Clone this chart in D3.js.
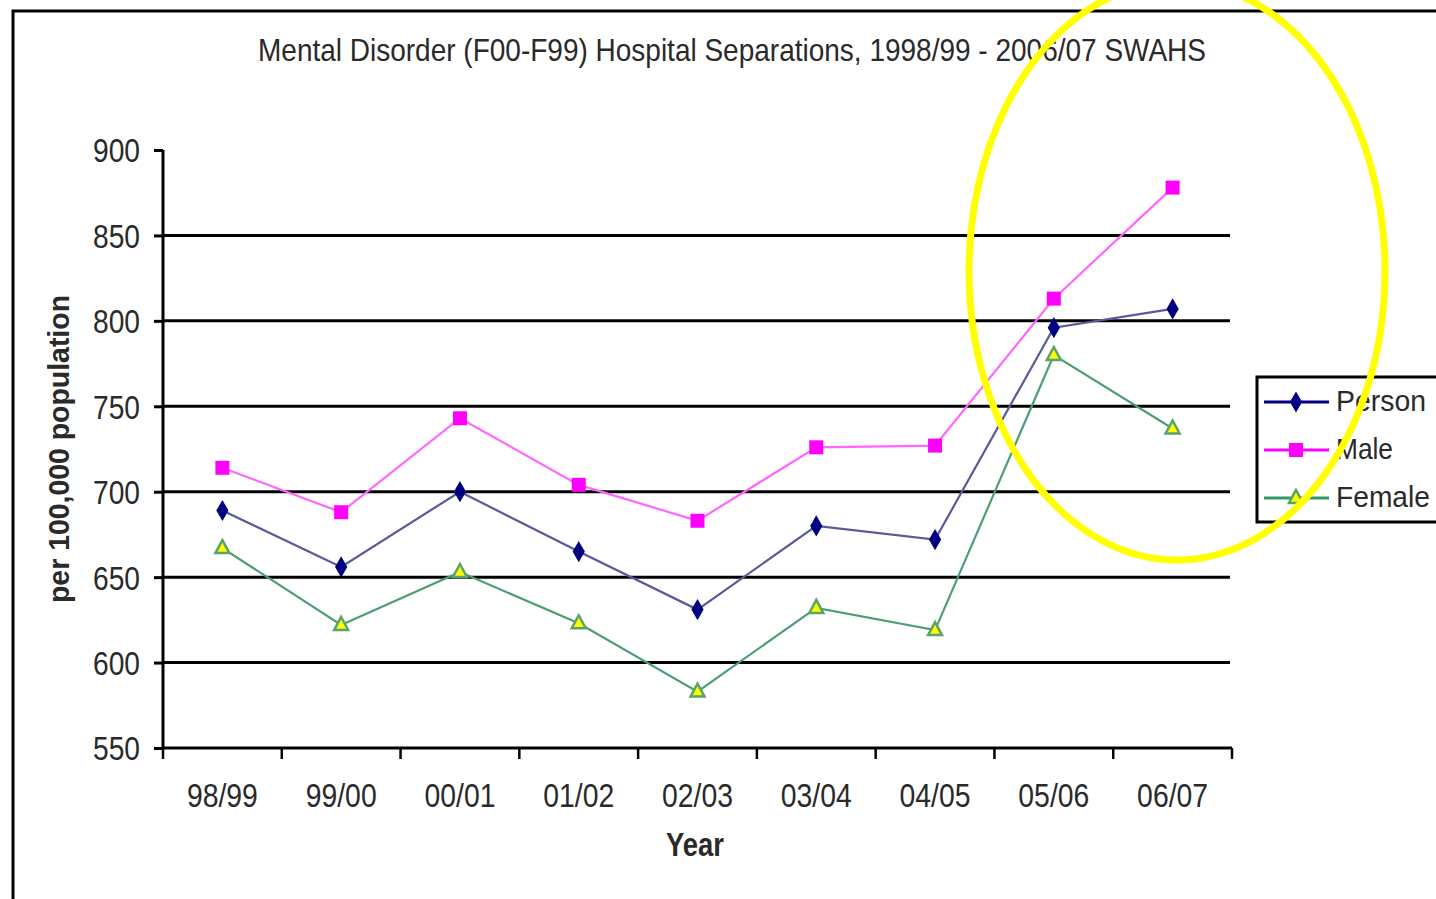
<!DOCTYPE html>
<html>
<head>
<meta charset="utf-8">
<script src="https://cdn.jsdelivr.net/npm/d3@7"></script>
<style>
  html, body { margin: 0; padding: 0; background: #fff; overflow: hidden; }
  svg { display: block; }
  text { font-family: "Liberation Sans", Arial, sans-serif; fill: #2a2a2a; }
</style>
</head>
<body>
<svg id="chart" width="1436" height="899"></svg>
<script>
// Categories (financial years)
const years = ["98/99", "99/00", "00/01", "01/02", "02/03", "03/04", "04/05", "05/06", "06/07"];

// Separations per 100,000 population
const person = [689, 656, 700, 665, 631, 680, 672, 796, 807];
const male   = [714, 688, 743, 704, 683, 726, 727, 813, 878];
const female = [667, 622, 653, 623, 583, 632, 619, 780, 737];

const yTicks = [550, 600, 650, 700, 750, 800, 850, 900];
const seriesNames = ["Person", "Male", "Female"];

const svg = d3.select("#chart");

const plot = { left: 163, right: 1232, top: 150, bottom: 748 };

const x = d3.scaleBand().domain(years).range([plot.left, plot.right]).padding(0);
const y = d3.scaleLinear().domain([550, 900]).range([plot.bottom, plot.top]);

// Outer frame (runs past the right and bottom edges)
svg.append("rect")
  .attr("x", 13).attr("y", 11)
  .attr("width", 1500).attr("height", 1000)
  .attr("fill", "none").attr("stroke", "#000").attr("stroke-width", 3);

// Title (tall, narrow lettering)
svg.append("text")
  .attr("x", 258).attr("y", 61)
  .attr("font-size", 32)
  .attr("textLength", 948).attr("lengthAdjust", "spacingAndGlyphs")
  .text("Mental Disorder (F00-F99) Hospital Separations, 1998/99 - 2006/07 SWAHS");

// Horizontal gridlines
svg.append("g")
  .selectAll("line")
  .data(yTicks.filter(t => t > 550 && t < 900))
  .join("line")
  .attr("x1", plot.left).attr("x2", plot.right - 2)
  .attr("y1", d => y(d)).attr("y2", d => y(d))
  .attr("stroke", "#000").attr("stroke-width", 3);

// Y axis
const yAxis = svg.append("g")
  .attr("transform", `translate(${plot.left},0)`)
  .call(d3.axisLeft(y).tickValues(yTicks).tickSize(9).tickPadding(14).tickFormat(d3.format("d")));
yAxis.select(".domain").attr("stroke", "#000").attr("stroke-width", 3).attr("d", `M0,${plot.top}V${plot.bottom}`);
yAxis.selectAll(".tick line").attr("stroke", "#000").attr("stroke-width", 3).attr("x2", -9);
yAxis.selectAll(".tick text")
  .attr("font-size", 33)
  .attr("textLength", 47).attr("lengthAdjust", "spacingAndGlyphs")
  .attr("fill", "#2a2a2a")
  .attr("dy", "0.36em");

// X axis
const xAxis = svg.append("g")
  .attr("transform", `translate(0,${plot.bottom})`)
  .call(d3.axisBottom(x).tickSize(0).tickPadding(0));
xAxis.select(".domain").attr("stroke", "#000").attr("stroke-width", 3)
  .attr("d", `M${plot.left},0H${plot.right}`);
xAxis.selectAll(".tick text")
  .attr("font-size", 34)
  .attr("y", 59)
  .attr("dy", 0)
  .attr("textLength", 71).attr("lengthAdjust", "spacingAndGlyphs")
  .attr("fill", "#2a2a2a");

// Category boundary ticks below the x axis
const bounds = years.map(d => x(d)).concat([x.range()[1]]);
svg.append("g")
  .selectAll("line")
  .data(bounds)
  .join("line")
  .attr("x1", d => d).attr("x2", d => d)
  .attr("y1", plot.bottom).attr("y2", plot.bottom + 11)
  .attr("stroke", "#000").attr("stroke-width", 2.5);

// Axis titles
svg.append("text")
  .attr("x", 695).attr("y", 856)
  .attr("text-anchor", "middle")
  .attr("font-size", 33).attr("font-weight", "bold")
  .attr("textLength", 58).attr("lengthAdjust", "spacingAndGlyphs")
  .text("Year");

svg.append("text")
  .attr("transform", "translate(69,449) rotate(-90)")
  .attr("text-anchor", "middle")
  .attr("font-size", 29).attr("font-weight", "bold")
  .attr("textLength", 308).attr("lengthAdjust", "spacingAndGlyphs")
  .text("per 100,000 population");

// Series
const cx = d => x(d) + x.bandwidth() / 2;
const series = [
  { name: "Person", values: person, line: "#5a5a9a", color: "#000080", marker: "diamond", width: 90 },
  { name: "Male",   values: male,   line: "#ff66ff", color: "#ff00ff", marker: "square",  width: 57 },
  { name: "Female", values: female, line: "#4d9e73", color: "#339966", marker: "triangle", width: 94 }
];

const lineGen = d3.line().x(d => cx(d.year)).y(d => y(d.value));

function drawMarker(g, type, px, py) {
  if (type === "square") {
    g.append("rect").attr("x", px - 7).attr("y", py - 7).attr("width", 14).attr("height", 14)
      .attr("fill", "#ff00ff");
  } else if (type === "diamond") {
    g.append("path")
      .attr("d", d3.symbol().type(d3.symbolDiamond).size(130)())
      .attr("transform", `translate(${px},${py})`)
      .attr("fill", "#000080");
  } else {
    g.append("path")
      .attr("d", `M${px},${py - 8}L${px + 7},${py + 5}L${px - 7},${py + 5}Z`)
      .attr("fill", "#ffff00").attr("stroke", "#5aa36a").attr("stroke-width", 2.5);
  }
}

series.forEach(s => {
  const pts = years.map((yr, i) => ({ year: yr, value: s.values[i] }));
  const g = svg.append("g");
  g.append("path").datum(pts)
    .attr("d", lineGen)
    .attr("fill", "none").attr("stroke", s.line).attr("stroke-width", 2.2);
  pts.forEach(p => drawMarker(g, s.marker, cx(p.year), y(p.value)));
});

// Legend
const legend = svg.append("g");
legend.append("rect")
  .attr("x", 1257).attr("y", 377).attr("width", 300).attr("height", 145)
  .attr("fill", "#fff").attr("stroke", "#000").attr("stroke-width", 3);
series.forEach((s, i) => {
  const ly = 402 + i * 48;
  legend.append("line")
    .attr("x1", 1264).attr("x2", 1329).attr("y1", ly).attr("y2", ly)
    .attr("stroke", s.color).attr("stroke-width", 3);
  drawMarker(legend, s.marker, 1296, ly);
  legend.append("text")
    .attr("x", 1336).attr("y", ly + 9)
    .attr("font-size", 30)
    .attr("textLength", s.width).attr("lengthAdjust", "spacingAndGlyphs")
    .text(s.name);
});

// Highlight ellipse around the latest two years
svg.append("ellipse")
  .attr("cx", 1177).attr("cy", 271).attr("rx", 208).attr("ry", 289)
  .attr("fill", "none").attr("stroke", "#ffff00").attr("stroke-width", 7);
</script>
</body>
</html>
